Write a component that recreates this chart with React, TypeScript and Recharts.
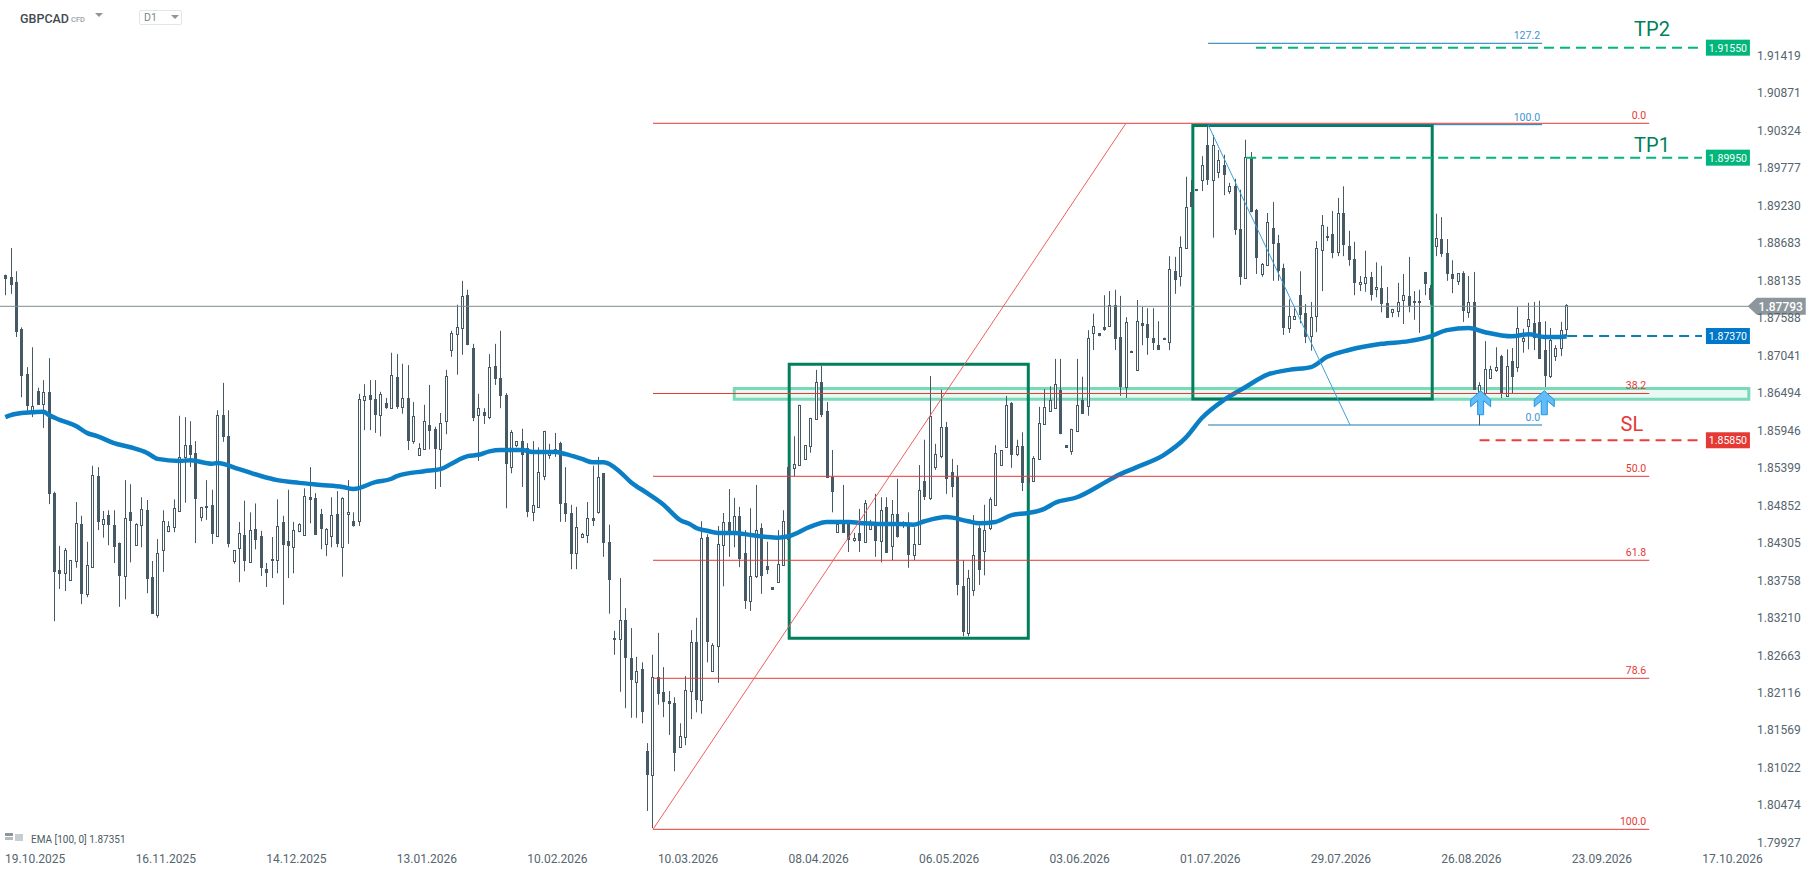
import {
  ComposedChart,
  Bar,
  Line,
  XAxis,
  YAxis,
  ReferenceLine,
  ReferenceArea,
  ReferenceDot,
} from 'recharts';

// ── Candles, price x 10000 ────────────────────────────────────────────────────
const opens = [
  18822,18819,18811,18743,18677,18624,18652,18633,18651,18503,18391,18386,18376,18404,18458,18356,
  18395,18528,18458,18471,18457,18430,18382,18475,18427,18457,18478,18381,18325,18420,18448,18454,
  18477,18556,18573,18562,18468,18484,18486,18440,18617,18586,18404,18423,18442,18402,18451,18440,
  18392,18407,18405,18461,18433,18424,18448,18442,18497,18496,18473,18429,18440,18473,18424,18473,
  18462,18462,18639,18646,18640,18617,18635,18627,18673,18629,18642,18579,18559,18567,18602,18597,
  18567,18608,18712,18735,18744,18792,18715,18617,18621,18614,18689,18671,18646,18541,18573,18579,
  18569,18475,18483,18528,18559,18562,18576,18489,18474,18416,18439,18442,18467,18475,18532,18432,
  18292,18290,18318,18262,18227,18246,18127,18092,18235,18213,18199,18197,18132,18147,18214,18286,
  18201,18439,18243,18280,18427,18461,18445,18470,18416,18346,18382,18452,18397,18366,18373,18398,
  18541,18540,18544,18553,18572,18611,18665,18623,18527,18446,18459,18458,18435,18445,18432,18451,
  18459,18433,18483,18426,18473,18461,18459,18413,18429,18521,18496,18541,18557,18600,18534,18527,
  18367,18299,18362,18452,18419,18452,18486,18544,18570,18635,18560,18572,18525,18521,18553,18604,
  18623,18627,18654,18573,18565,18594,18639,18630,18737,18737,18746,18747,18778,18731,18658,18711,
  18683,18751,18750,18730,18719,18730,18724,18827,18820,18861,18943,18947,18960,19011,18960,18972,
  18982,18944,18951,18889,18817,18994,18916,18823,18836,18890,18868,18832,18744,18757,18792,18766,
  18732,18762,18858,18878,18881,18855,18912,18864,18845,18808,18810,18819,18801,18803,18781,18767,
  18769,18785,18791,18784,18784,18826,18803,18864,18874,18854,18823,18813,18824,18767,18782,18651,
  18649,18671,18683,18703,18645,18696,18687,18725,18747,18751,18753,18712,18674,18703,18715,18743,
];
const closes = [
  18816,18807,18738,18674,18630,18630,18632,18651,18502,18388,18385,18420,18405,18459,18356,18398,
  18530,18461,18465,18457,18424,18382,18467,18462,18458,18480,18378,18327,18416,18462,18455,18481,
  18556,18573,18559,18494,18483,18481,18443,18617,18585,18429,18420,18445,18404,18449,18435,18394,
  18386,18404,18455,18427,18426,18449,18458,18499,18493,18442,18451,18451,18471,18429,18496,18475,
  18455,18640,18645,18639,18617,18648,18627,18676,18629,18642,18579,18616,18569,18608,18594,18567,
  18605,18674,18737,18745,18791,18719,18613,18627,18616,18687,18670,18645,18546,18592,18579,18559,
  18475,18486,18534,18594,18566,18567,18487,18473,18414,18454,18443,18467,18462,18527,18430,18376,
  18289,18318,18262,18230,18243,18183,18092,18235,18210,18198,18195,18124,18148,18216,18286,18201,
  18438,18286,18281,18429,18461,18445,18470,18407,18346,18382,18449,18382,18391,18362,18400,18462,
  18435,18546,18632,18573,18613,18665,18617,18525,18505,18458,18445,18435,18438,18433,18489,18459,
  18433,18478,18416,18473,18439,18455,18413,18429,18508,18497,18616,18560,18600,18524,18512,18369,
  18300,18379,18413,18391,18449,18494,18562,18566,18632,18559,18572,18518,18518,18554,18605,18629,
  18639,18662,18589,18569,18597,18632,18619,18730,18747,18732,18741,18778,18728,18658,18753,18708,
  18754,18747,18730,18722,18712,18727,18830,18814,18862,18921,18921,18944,18982,18960,19011,18989,
  18967,18951,18887,18819,18994,18913,18846,18838,18899,18867,18827,18744,18762,18762,18763,18731,
  18760,18861,18894,18876,18854,18912,18865,18843,18810,18811,18819,18792,18804,18779,18759,18772,
  18782,18792,18776,18781,18781,18808,18785,18876,18852,18823,18816,18824,18769,18782,18654,18661,
  18684,18684,18687,18649,18689,18673,18744,18730,18757,18730,18699,18674,18727,18715,18741,18778,
];
const highs = [
  18822,18861,18827,18745,18687,18716,18657,18668,18700,18505,18426,18423,18405,18490,18470,18432,
  18543,18541,18477,18478,18478,18431,18522,18516,18459,18497,18493,18404,18436,18478,18462,18494,
  18616,18614,18608,18579,18483,18522,18508,18624,18664,18624,18420,18461,18492,18475,18488,18448,
  18401,18439,18494,18470,18508,18461,18459,18510,18541,18503,18480,18452,18497,18506,18497,18522,
  18475,18648,18662,18668,18668,18651,18642,18708,18706,18692,18690,18636,18576,18632,18661,18600,
  18620,18683,18740,18778,18813,18800,18721,18648,18627,18706,18721,18740,18649,18595,18579,18597,
  18576,18579,18570,18594,18575,18591,18578,18541,18486,18483,18445,18490,18543,18556,18532,18457,
  18302,18379,18335,18306,18264,18256,18138,18267,18299,18249,18214,18205,18167,18236,18303,18321,
  18462,18443,18284,18455,18474,18509,18496,18483,18449,18481,18515,18459,18432,18366,18449,18478,
  18544,18586,18632,18573,18613,18683,18689,18636,18566,18459,18515,18459,18445,18480,18493,18464,
  18502,18497,18497,18493,18524,18462,18475,18453,18544,18581,18674,18575,18654,18607,18553,18544,
  18405,18391,18471,18456,18486,18497,18573,18566,18645,18636,18581,18592,18537,18557,18629,18655,
  18659,18699,18699,18573,18597,18699,18673,18741,18765,18737,18792,18798,18800,18791,18760,18711,
  18785,18775,18773,18773,18754,18730,18849,18848,18878,18965,18960,18947,18995,19040,19026,19004,
  18997,18956,18962,18946,19019,19001,18918,18839,18912,18928,18880,18838,18786,18775,18827,18779,
  18782,18871,18909,18892,18915,18934,18951,18886,18870,18820,18857,18826,18840,18835,18804,18772,
  18810,18823,18848,18798,18800,18826,18807,18911,18906,18874,18843,18824,18827,18820,18826,18665,
  18725,18689,18716,18705,18713,18715,18775,18743,18781,18782,18784,18754,18744,18719,18753,18779,
];
const lows = [
  18792,18794,18731,18643,18621,18614,18632,18598,18487,18316,18363,18360,18376,18394,18341,18351,
  18395,18449,18438,18427,18401,18337,18348,18402,18426,18424,18357,18327,18321,18388,18446,18446,
  18477,18489,18541,18430,18462,18464,18429,18440,18578,18424,18400,18373,18389,18402,18421,18382,
  18366,18379,18386,18340,18379,18386,18446,18442,18459,18442,18421,18411,18424,18424,18381,18429,
  18454,18455,18595,18595,18591,18586,18626,18627,18626,18619,18566,18575,18559,18567,18567,18509,
  18512,18589,18702,18676,18705,18719,18608,18550,18604,18611,18661,18627,18481,18532,18570,18512,
  18468,18462,18483,18522,18553,18556,18461,18461,18392,18392,18439,18430,18455,18473,18410,18327,
  18267,18213,18189,18175,18175,18167,18039,18014,18194,18176,18150,18097,18132,18135,18173,18183,
  18181,18256,18243,18226,18367,18410,18424,18395,18334,18331,18379,18356,18385,18362,18373,18397,
  18417,18528,18544,18553,18562,18611,18614,18525,18475,18445,18445,18417,18432,18417,18431,18451,
  18410,18402,18416,18405,18438,18452,18394,18405,18429,18493,18493,18537,18554,18502,18497,18354,
  18294,18294,18353,18369,18383,18449,18486,18544,18570,18540,18557,18506,18508,18521,18553,18604,
  18623,18627,18589,18569,18559,18594,18619,18616,18712,18732,18740,18747,18712,18645,18642,18708,
  18683,18719,18705,18712,18712,18727,18712,18794,18805,18861,18921,18944,18944,18953,18876,18963,
  18938,18940,18880,18807,18817,18913,18823,18819,18836,18813,18813,18734,18737,18757,18751,18722,
  18711,18738,18798,18871,18846,18849,18849,18835,18792,18798,18797,18784,18789,18767,18759,18760,
  18760,18750,18767,18756,18737,18792,18778,18849,18848,18813,18795,18807,18753,18759,18654,18602,
  18646,18671,18680,18642,18645,18649,18680,18708,18713,18712,18699,18658,18671,18696,18703,18732,
];

// ── EMA 100, read at these candles ────────────────────────────────────────────
const emaIndex = [
  0,1,3,5,7,8,10,13,15,17,20,23,26,28,32,34,38,39,43,47,50,54,58,62,64,68,71,72,77,80,82,85,87,89,91,95,
  97,101,103,106,108,110,113,115,118,121,124,126,127,129,131,134,137,140,142,144,148,151,155,158,161,164,
  167,169,173,177,179,182,185,188,191,193,197,202,204,208,213,217,220,224,228,232,236,240,243,247,253,258,
  262,265,269,272,277,280,283,286,287,
];
const emaValues = [
  18614,18617,18620,18621,18622,18617,18610,18601,18591,18586,18576,18570,18562,18553,18550,18551,18546,18547,
  18538,18528,18522,18518,18515,18512,18509,18519,18524,18528,18535,18538,18546,18557,18559,18564,18566,18566,
  18563,18563,18560,18553,18548,18548,18534,18519,18503,18486,18464,18457,18452,18448,18445,18445,18442,18439,
  18438,18440,18454,18461,18461,18459,18458,18458,18457,18462,18468,18462,18459,18461,18471,18474,18480,18489,
  18497,18518,18527,18541,18559,18584,18613,18639,18658,18676,18683,18687,18702,18712,18721,18725,18732,18741,
  18744,18738,18732,18735,18731,18731,18732,
];

// ── Axes ──────────────────────────────────────────────────────────────────────
const priceTicks = [
  1.91419,1.90871,1.90324,1.89777,1.8923,1.88683,1.88135,1.87588,1.87041,1.86494,1.85946,
  1.85399,1.84852,1.84305,1.83758,1.8321,1.82663,1.82116,1.81569,1.81022,1.80474,1.79927,
];
const dateTicks = [5.5,29.5,53.5,77.5,101.5,125.5,149.5,173.5,197.5,221.5,245.5,269.5,293.5,317.5];
const dateLabels = [
  '19.10.2025','16.11.2025','14.12.2025','13.01.2026','10.02.2026','10.03.2026','08.04.2026',
  '06.05.2026','03.06.2026','01.07.2026','29.07.2026','26.08.2026','23.09.2026','17.10.2026',
];

// ── Drawing tools ─────────────────────────────────────────────────────────────
const redFibPrices = [1.9043,1.86485,1.85276,1.8405,1.82327,1.80122];
const redFibLabels = ['0.0','38.2','50.0','61.8','78.6','100.0'];
const blueFibPrices = [1.91598,1.9041,1.86025];
const blueFibLabels = ['127.2','100.0','0.0'];
const tradeLines = [
  { name: 'TP2', from: 229.9, price: 1.91534, color: '#00b67a', tag: '1.91550', tagColor: '#00b67a' },
  { name: 'TP1', from: 228.1, price: 1.89928, color: '#00b67a', tag: '1.89950', tagColor: '#00b67a' },
  { name: 'EMA', from: 287.1, price: 1.87324, color: '#0a7cc2', tag: '1.87370', tagColor: '#0077c8' },
  { name: 'SL',  from: 271,   price: 1.85802, color: '#ef3b3b', tag: '1.85850', tagColor: '#e53935' },
];
const arrowCandles = [271.2, 282.9];

// ── Constants ─────────────────────────────────────────────────────────────────
const WIDTH = 1818;
const HEIGHT = 873;
const CANDLE = '#465a66';
const TEXT = '#56656e';
const RED = '#e53935';
const DIAGONAL = '#f0605c';
const BLUE = '#1a78ad';
const BOX = '#017f5b';
const FONT = 'Roboto, sans-serif';
const DOMAIN_X: [number, number] = [-0.974, 320.9];
const DOMAIN_Y: [number, number] = [1.79893, 1.9223];

const table = opens.map((open, i) => {
  const emaAt = emaIndex.indexOf(i);
  return {
    i,
    open: open / 10000,
    close: closes[i] / 10000,
    high: highs[i] / 10000,
    low: lows[i] / 10000,
    ema: emaAt >= 0 ? emaValues[emaAt] / 10000 : null,
  };
});

// ── Candle shape ──────────────────────────────────────────────────────────────
function Candle({ x, y, width, height, payload }: any) {
  const { open, close, high, low } = payload;
  const perPrice = height / (high - low);
  const yOpen = y + (high - open) * perPrice;
  const yClose = y + (high - close) * perPrice;
  const top = Math.round(Math.min(yOpen, yClose));
  const bottom = Math.round(Math.max(yOpen, yClose));
  const c = Math.round(x + width / 2) + 0.5;
  const up = close >= open;
  return (
    <g>
      <line x1={c} x2={c} y1={y} y2={y + height} stroke={CANDLE} strokeWidth={1} />
      {up ? (
        <rect x={c - 1} y={top + 0.5} width={2} height={Math.max(bottom - top, 1)} fill="#fff" stroke={CANDLE} strokeWidth={1} />
      ) : (
        <rect x={c - 1.5} y={top} width={3} height={Math.max(bottom - top, 2)} fill={CANDLE} />
      )}
    </g>
  );
}

function textShape(value: string, color: string, size: number, dx: number, dy: number, anchor = 'end') {
  return ({ cx, cy }: any) => (
    <text x={cx + dx} y={cy + dy} fill={color} fontSize={size} fontFamily={FONT} textAnchor={anchor}>
      {value}
    </text>
  );
}

function tagShape(value: string, color: string) {
  return ({ cx, cy }: any) => (
    <g>
      <rect x={cx - 44} y={cy - 8} width={44} height={16} fill={color} />
      <text x={cx - 22} y={cy + 4} fill="#fff" fontSize={10.5} fontFamily={FONT} textAnchor="middle">
        {value}
      </text>
    </g>
  );
}

function lastPriceShape(value: string) {
  return ({ cx, cy }: any) => (
    <g>
      <polygon
        points={`${cx},${cy} ${cx + 9},${cy - 8.5} ${cx + 58},${cy - 8.5} ${cx + 58},${cy + 8.5} ${cx + 9},${cy + 8.5}`}
        fill="#8d969c"
      />
      <text x={cx + 33} y={cy + 4.5} fill="#fff" fontSize={12} fontWeight={500} fontFamily={FONT} textAnchor="middle">
        {value}
      </text>
    </g>
  );
}

function arrowShape({ cx, cy }: any) {
  const pts = [[0,-12],[10,-3],[10,4],[3,-2],[3,12],[-3,12],[-3,-2],[-10,4],[-10,-3]];
  return (
    <polygon
      points={pts.map(p => `${cx + p[0]},${cy + p[1]}`).join(' ')}
      fill="#62bdf6"
      stroke="#1f95ea"
      strokeWidth={1}
    />
  );
}

function Triangle({ left, top, w }: { left: number; top: number; w: number }) {
  return (
    <div
      style={{
        position: 'absolute',
        left,
        top,
        width: 0,
        height: 0,
        borderLeft: `${w / 2}px solid transparent`,
        borderRight: `${w / 2}px solid transparent`,
        borderTop: `${w / 2}px solid #8d969c`,
      }}
    />
  );
}

export default function App() {
  return (
    <div
      style={{
        position: 'absolute',
        left: 0,
        top: 0,
        width: WIDTH,
        height: HEIGHT,
        overflow: 'hidden',
        background: '#fff',
        fontFamily: FONT,
      }}
    >
      <ComposedChart
        width={WIDTH}
        height={HEIGHT}
        data={table}
        margin={{ top: 0, right: 0, bottom: 0, left: 0 }}
      >
        <XAxis
          dataKey="i"
          type="number"
          domain={DOMAIN_X}
          allowDataOverflow
          ticks={dateTicks}
          interval={0}
          tickFormatter={(v: number) => dateLabels[dateTicks.indexOf(v)] ?? ''}
          tick={{ fill: TEXT, fontSize: 12, fontFamily: FONT }}
          axisLine={false}
          tickLine={false}
          tickMargin={3}
          height={28}
        />
        <YAxis
          orientation="right"
          domain={DOMAIN_Y}
          allowDataOverflow
          ticks={priceTicks}
          interval={0}
          tickFormatter={(v: number) => v.toFixed(5)}
          tick={{ fill: TEXT, fontSize: 12, fontFamily: FONT }}
          axisLine={false}
          tickLine={false}
          tickSize={0}
          tickMargin={6}
          width={67}
        />

        {/* last price */}
        <ReferenceLine y={1.87758} stroke="#7f8c8f" strokeWidth={1} />

        <Bar
          dataKey={(d: any) => [d.low, d.high]}
          barSize={3}
          shape={<Candle />}
          isAnimationActive={false}
        />
        <Line
          dataKey="ema"
          type="monotone"
          stroke="#0b7fc6"
          strokeWidth={4.5}
          dot={false}
          activeDot={false}
          connectNulls
          isAnimationActive={false}
        />

        {/* support zone */}
        <ReferenceArea
          x1={134}
          x2={320.5}
          y1={1.864}
          y2={1.86558}
          fill="#c8f2e2"
          fillOpacity={0.45}
          stroke="#78dab8"
          strokeWidth={3}
        />

        {/* red fibonacci */}
        {redFibPrices.map((p, k) => (
          <ReferenceLine
            key={`red-${k}`}
            segment={[{ x: 119.06, y: p }, { x: 302.2, y: p }]}
            stroke={RED}
            strokeWidth={1}
          />
        ))}
        <ReferenceLine
          segment={[{ x: 119.06, y: redFibPrices[5] }, { x: 206, y: redFibPrices[0] }]}
          stroke={DIAGONAL}
          strokeWidth={1}
        />
        {redFibPrices.map((p, k) => (
          <ReferenceDot
            key={`red-label-${k}`}
            x={302.2}
            y={p}
            r={0}
            shape={textShape(redFibLabels[k], RED, 10.5, -3, -4)}
          />
        ))}

        {/* blue fibonacci */}
        {blueFibPrices.map((p, k) => (
          <ReferenceLine
            key={`blue-${k}`}
            segment={[{ x: 221.1, y: p }, { x: 282.5, y: p }]}
            stroke={BLUE}
            strokeWidth={1}
          />
        ))}
        <ReferenceLine
          segment={[{ x: 221.1, y: blueFibPrices[1] }, { x: 247.2, y: blueFibPrices[2] }]}
          stroke="#3d9fd8"
          strokeWidth={1}
        />
        {blueFibPrices.map((p, k) => (
          <ReferenceDot
            key={`blue-label-${k}`}
            x={282.5}
            y={p}
            r={0}
            shape={textShape(blueFibLabels[k], '#3d94d1', 10.5, -2, -4)}
          />
        ))}

        {/* consolidation boxes */}
        <ReferenceArea x1={144.1} x2={188.05} y1={1.82911} y2={1.86911} fill="none" stroke={BOX} strokeWidth={3} />
        <ReferenceArea x1={218.3} x2={262.3} y1={1.86405} y2={1.90396} fill="none" stroke={BOX} strokeWidth={3} />

        {/* trade levels */}
        {tradeLines.map(l => (
          <ReferenceLine
            key={l.name}
            segment={[{ x: l.from, y: l.price }, { x: 311.9, y: l.price }]}
            stroke={l.color}
            strokeWidth={2}
            strokeDasharray="10 6"
          />
        ))}
        {tradeLines.map(l => (
          <ReferenceDot key={`tag-${l.name}`} x={320.7} y={l.price} r={0} shape={tagShape(l.tag, l.tagColor)} />
        ))}
        <ReferenceDot x={302.7} y={1.9181} r={0} shape={textShape('TP2', BOX, 20, 0, 7, 'middle')} />
        <ReferenceDot x={302.7} y={1.9012} r={0} shape={textShape('TP1', BOX, 20, 0, 7, 'middle')} />
        <ReferenceDot x={299} y={1.8604} r={0} shape={textShape('SL', RED, 20, 0, 7, 'middle')} />

        {arrowCandles.map(c => (
          <ReferenceDot key={`arrow-${c}`} x={c} y={1.8635} r={0} shape={arrowShape} />
        ))}

        <ReferenceDot x={320.3} y={1.87758} r={0} shape={lastPriceShape('1.87793')} />
      </ComposedChart>

      {/* header */}
      <div style={{ position: 'absolute', left: 20, top: 11, fontSize: 12.5, fontWeight: 500, color: '#3f4b52' }}>GBPCAD</div>
      <div style={{ position: 'absolute', left: 71, top: 15, fontSize: 7.5, fontWeight: 500, color: '#9aa3a8' }}>CFD</div>
      <Triangle left={95} top={13} w={9} />
      <div
        style={{
          position: 'absolute',
          left: 139,
          top: 10,
          width: 43,
          height: 15,
          boxSizing: 'border-box',
          border: '1px solid #e3e6e8',
          borderRadius: 2,
        }}
      />
      <div style={{ position: 'absolute', left: 144, top: 11, fontSize: 10.5, color: '#7b868c' }}>D1</div>
      <Triangle left={171} top={15} w={9} />

      {/* indicator legend */}
      <div style={{ position: 'absolute', left: 31, top: 834, fontSize: 10, color: '#4a5a63' }}>EMA [100, 0] 1.87351</div>
      <svg style={{ position: 'absolute', left: 4, top: 832 }} width={22} height={12}>
        <rect x={1} y={1} width={8} height={3} fill="#8d969c" />
        <rect x={1} y={5} width={8} height={3} fill="#b5bcc0" />
        <rect x={11} y={2} width={8} height={7} fill="#c8cdd0" />
      </svg>
    </div>
  );
}
